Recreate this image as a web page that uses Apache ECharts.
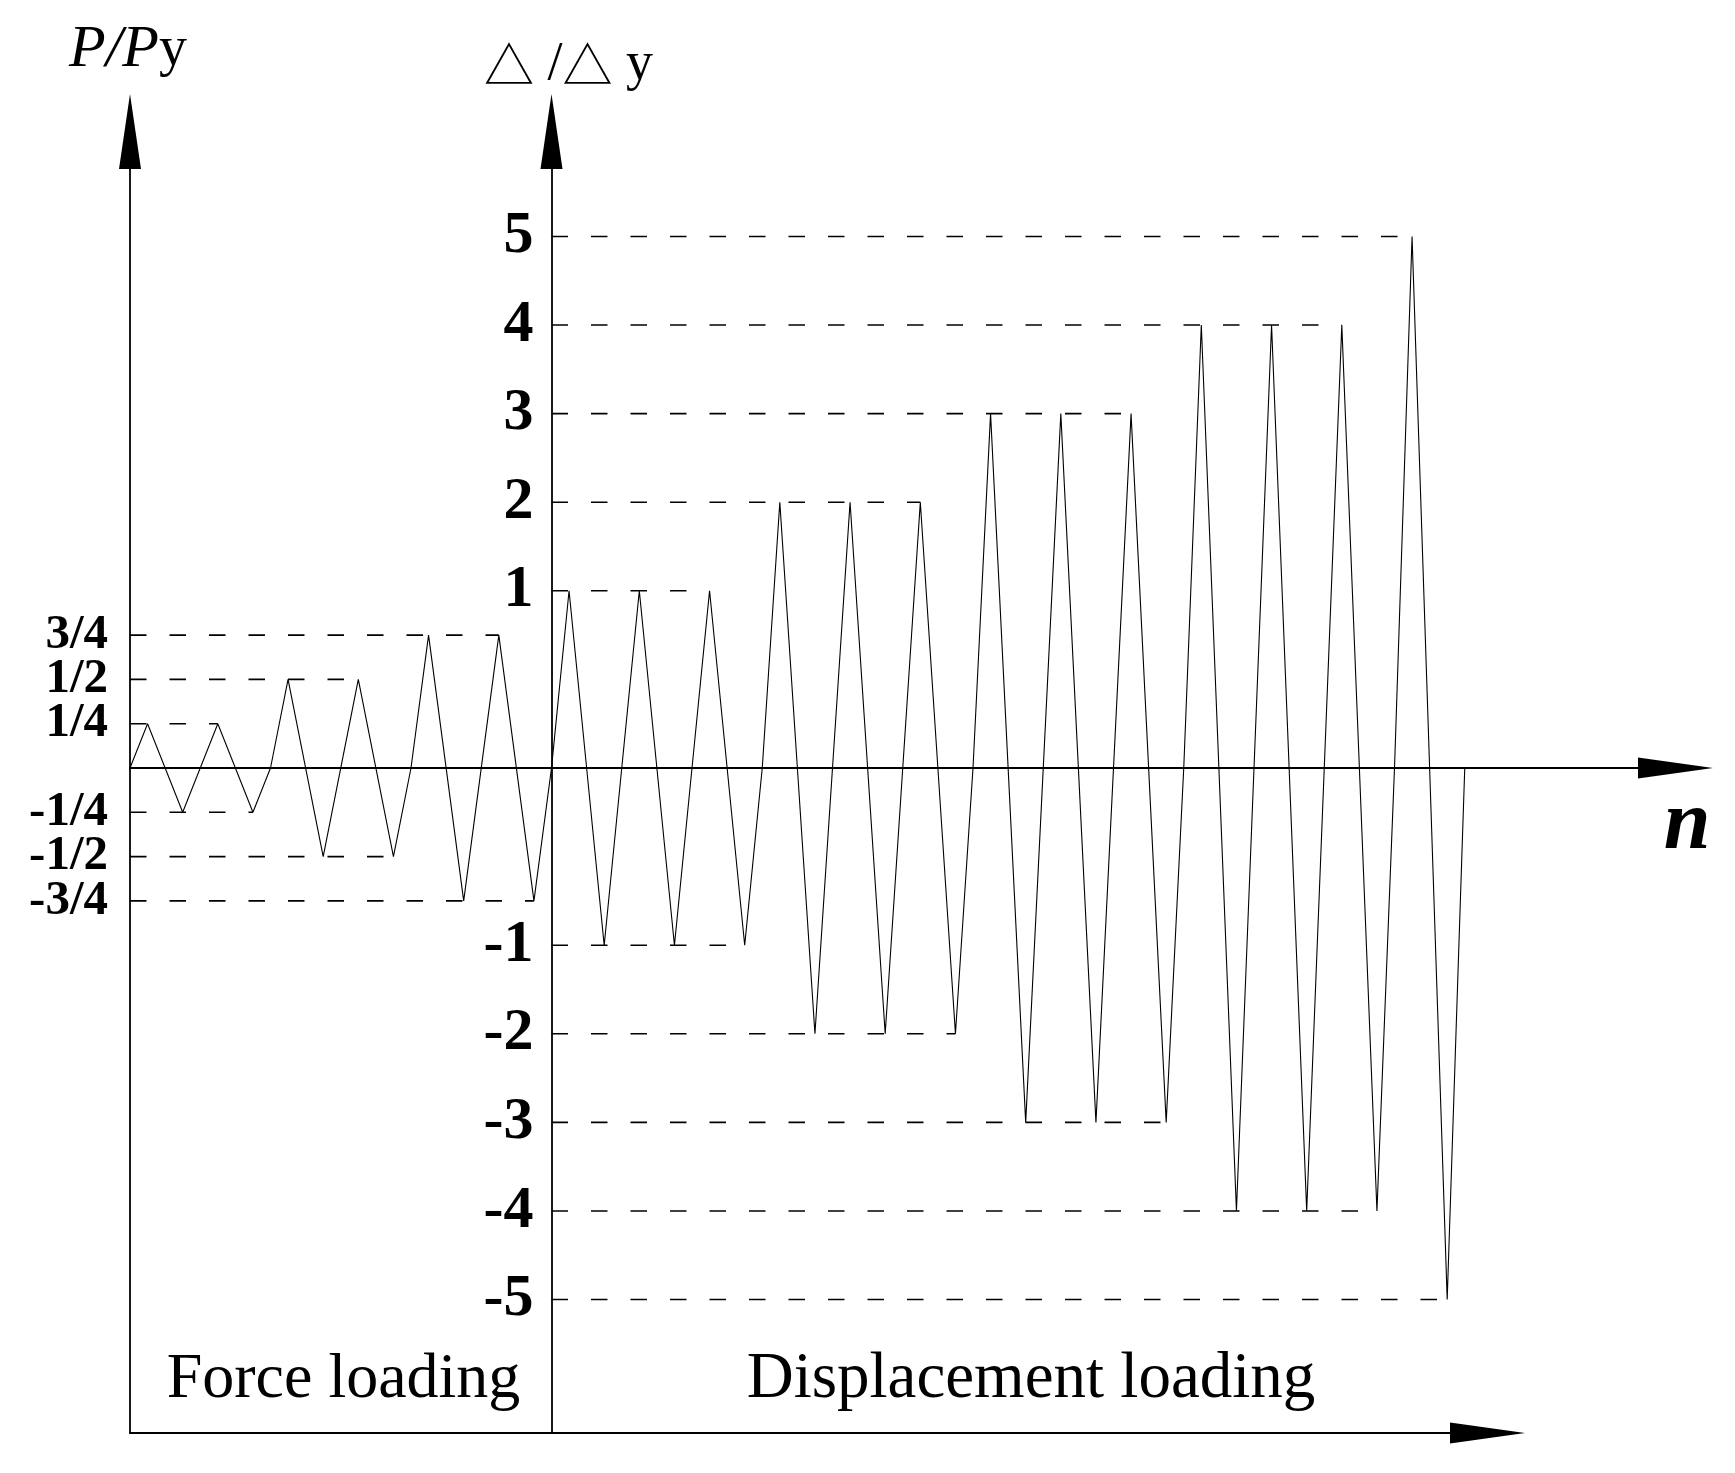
<!DOCTYPE html>
<html><head><meta charset="utf-8">
<script src="https://cdn.jsdelivr.net/npm/echarts@6/dist/echarts.min.js"></script>
<style>html,body{margin:0;padding:0;background:#fff}#c{width:1735px;height:1473px}</style>
</head><body><div id="c"></div>
<script>
// ---- Data ----
// Force-controlled stage: cycle step n and P/Py
const forceN      = [0, 1, 3, 5, 7, 8, 9, 11, 13, 15, 16, 17, 19, 21, 23, 24];
const forceValues = [0, 0.25, -0.25, 0.25, -0.25, 0, 0.5, -0.5, 0.5, -0.5, 0, 0.75, -0.75, 0.75, -0.75, 0];
const forceTickValues = [-0.75, -0.5, -0.25, 0.25, 0.5, 0.75];
const forceTickLabels = ['-3/4', '-1/2', '-1/4', '1/4', '1/2', '3/4'];
// Displacement-controlled stage: cycle step n and Δ/Δy
const dispN      = [24, 25, 27, 29, 31, 33, 35, 36, 37, 39, 41, 43, 45, 47, 48, 49, 51, 53, 55, 57, 59, 60, 61, 63, 65, 67, 69, 71, 72, 73, 75, 76];
const dispValues = [0, 1, -1, 1, -1, 1, -1, 0, 2, -2, 2, -2, 2, -2, 0, 3, -3, 3, -3, 3, -3, 0, 4, -4, 4, -4, 4, -4, 0, 5, -5, 0];
// schematic displacement axis (the band between -1 and 1 is drawn twice as tall)
const dispCategories = ['-5', '-4', '-3', '-2', '-1', 'gap-', '0', 'gap+', '1', '2', '3', '4', '5'];
const dispTickLabels = ['-5', '-4', '-3', '-2', '-1', '1', '2', '3', '4', '5'];
const regionLabels = ['Force loading', 'Displacement loading'];

// ---- Layout ----
const X0 = 130, UNIT = 17.5625, NMAX = 88, NSPLIT = 24;
const XMID = X0 + NSPLIT * UNIT;
const Y0 = 768, LEVEL = 44.3, TOP = 131.5, BOTTOM = 1433;
const FONT = 'Liberation Serif';
const AXW = 1.8;
const FMIN = -(BOTTOM - Y0) / (4 * LEVEL), FMAX = (Y0 - TOP) / (4 * LEVEL);

function guides(ns, vals, xStart) {
  const out = [], seen = new Set();
  for (let i = vals.length - 1; i >= 0; i--) {
    const v = vals[i];
    if (v === 0 || seen.has(v)) continue;
    seen.add(v);
    out.push([[xStart, v], [ns[i], v]]);
  }
  return out;
}

const lineBase = { type: 'line', symbol: 'none', showSymbol: false, clip: false, silent: true, animation: false };
const series = [];
series.push(Object.assign({}, lineBase, {
  xAxisIndex: 0, yAxisIndex: 0,
  data: forceN.map((n, i) => [n, forceValues[i]]),
  lineStyle: { color: '#000', width: 1.1 }
}));
series.push(Object.assign({}, lineBase, {
  xAxisIndex: 1, yAxisIndex: 2,
  data: dispN.map((n, i) => [n, String(dispValues[i])]),
  lineStyle: { color: '#000', width: 1.1 }
}));
guides(forceN, forceValues, forceN[0]).forEach(seg => series.push(Object.assign({}, lineBase, {
  xAxisIndex: 0, yAxisIndex: 0, data: seg, z: 1,
  lineStyle: { color: '#000', width: 1.6, type: [16.5, 23] }
})));
guides(dispN, dispValues, dispN[0]).forEach(seg => series.push(Object.assign({}, lineBase, {
  xAxisIndex: 1, yAxisIndex: 2, z: 1,
  data: seg.map(p => [p[0], String(p[1])]),
  lineStyle: { color: '#000', width: 1.6, type: [16.5, 23] }
})));

const arrowLine = { show: true, onZero: false, lineStyle: { color: '#000', width: AXW }, symbol: ['none', 'triangle'], symbolSize: [22, 75] };
// force tick labels are split over two coincident axes so that neighbouring labels never collide
const forceLabelStyle = (vals) => ({
  show: true, customValues: vals, margin: 22,
  formatter: v => forceTickLabels[forceTickValues.indexOf(v)],
  color: '#000', fontFamily: FONT, fontWeight: 'bold', fontSize: 49
});

const option = {
  animation: false,
  backgroundColor: '#fff',
  grid: [
    { left: X0, top: TOP, width: NMAX * UNIT, height: BOTTOM - TOP, containLabel: false, outerBoundsMode: 'none' },
    { left: XMID, top: Y0 - 12 * LEVEL, width: (NMAX - NSPLIT) * UNIT, height: 24 * LEVEL, containLabel: false, outerBoundsMode: 'none' },
    { left: X0, top: BOTTOM - 10, width: 1357.5, height: 10, containLabel: false, outerBoundsMode: 'none' }
  ],
  xAxis: [
    { gridIndex: 0, type: 'value', min: 0, max: NMAX,
      axisLine: Object.assign({}, arrowLine, { onZero: true, onZeroAxisIndex: 0, symbolSize: [21, 75] }),
      axisTick: { show: false }, axisLabel: { show: false }, splitLine: { show: false } },
    { gridIndex: 1, type: 'value', min: NSPLIT, max: NMAX, show: false },
    { gridIndex: 2, type: 'value', min: 0, max: 1, position: 'bottom',
      axisLine: Object.assign({}, arrowLine, { symbolSize: [21, 75] }),
      axisTick: { show: false }, axisLabel: { show: false }, splitLine: { show: false } }
  ],
  yAxis: [
    { gridIndex: 0, type: 'value', position: 'left', min: FMIN, max: FMAX,
      axisLine: arrowLine, axisTick: { show: false }, splitLine: { show: false },
      axisLabel: forceLabelStyle(forceTickValues.filter((v, i) => i % 2 === 0)) },
    { gridIndex: 0, type: 'value', position: 'left', offset: -(XMID - X0), min: FMIN, max: FMAX,
      axisLine: arrowLine, axisTick: { show: false }, splitLine: { show: false }, axisLabel: { show: false } },
    { gridIndex: 1, type: 'category', data: dispCategories, boundaryGap: false, position: 'left',
      axisLine: { show: false, onZero: false }, axisTick: { show: false }, splitLine: { show: false },
      axisLabel: { show: true, interval: 0, margin: 18,
        formatter: name => dispTickLabels.includes(name) ? name : '',
        color: '#000', fontFamily: FONT, fontWeight: 'bold', fontSize: 60, padding: [0, 0, 8, 0] } },
    { gridIndex: 2, type: 'value', show: false },
    { gridIndex: 0, type: 'value', position: 'left', min: FMIN, max: FMAX,
      axisLine: { show: false, onZero: false }, axisTick: { show: false }, splitLine: { show: false },
      axisLabel: forceLabelStyle(forceTickValues.filter((v, i) => i % 2 === 1)) }
  ],
  graphic: [
    { type: 'text', x: 128, y: 50, silent: true, style: {
        text: '{i|P/P}{u|y}', align: 'center', verticalAlign: 'middle', fill: '#000',
        rich: { i: { fontFamily: FONT, fontStyle: 'italic', fontSize: 60, fill: '#000' },
                u: { fontFamily: FONT, fontSize: 56, fill: '#000' } } } },
    { type: 'text', x: 484, y: 65, silent: true, style: {
        text: '{t|△} /{t|△} {u|y}', align: 'left', verticalAlign: 'middle', fill: '#000',
        rich: { t: { fontFamily: 'Noto Sans CJK SC', fontSize: 50, fill: '#000' },
                u: { fontFamily: FONT, fontSize: 54, fill: '#000' } },
        fontFamily: FONT, fontSize: 54 } },
    { type: 'text', x: 1687, y: 826, silent: true, style: {
        text: 'n', font: 'italic bold 84px "Liberation Serif"', align: 'center', verticalAlign: 'middle', fill: '#000' } },
    { type: 'text', x: 343.5, y: 1380, silent: true, style: {
        text: regionLabels[0], font: '64px "Liberation Serif"', align: 'center', verticalAlign: 'middle', fill: '#000' } },
    { type: 'text', x: 1031, y: 1380, silent: true, style: {
        text: regionLabels[1], font: '65px "Liberation Serif"', align: 'center', verticalAlign: 'middle', fill: '#000' } }
  ],
  series: series
};
const chart = echarts.init(document.getElementById('c'), null, { renderer: 'canvas' });
chart.setOption(option);
</script>
</body></html>
